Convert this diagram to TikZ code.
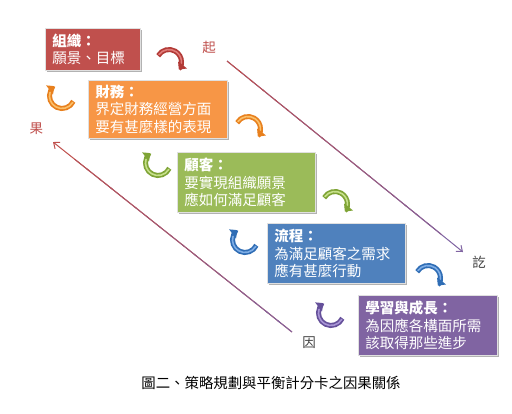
\documentclass[tikz,border=0pt]{standalone}
\usepackage{fontspec}
\setmainfont{Noto Sans CJK TC}
\usetikzlibrary{arrows.meta,shadows,calc}
\definecolor{cred}{HTML}{C0504D}
\definecolor{corange}{HTML}{F79646}
\definecolor{cgreen}{HTML}{9BBB59}
\definecolor{cblue}{HTML}{4F81BD}
\definecolor{cpurple}{HTML}{8064A2}
\definecolor{ared}{HTML}{B23A36}
\definecolor{ared2}{HTML}{E07B78}
\definecolor{aorange}{HTML}{E8801E}
\definecolor{aorange2}{HTML}{FBC06A}
\definecolor{agreen}{HTML}{7FA436}
\definecolor{agreen2}{HTML}{C6E08A}
\definecolor{ablue}{HTML}{2F6DB5}
\definecolor{ablue2}{HTML}{7FAEE6}
\definecolor{apurple}{HTML}{65509A}
\definecolor{apurple2}{HTML}{A895D6}
\newcommand\toparc[4]{%
  \draw[line width=5pt, #3, -{Triangle[length=6pt,width=11pt]}] ($(#1,-#2)+(150:12.5)$) arc[start angle=150,end angle=-38,radius=12.5];
  \draw[line width=1.6pt, #4, line cap=round] ($(#1,-#2)+(144:12.5)$) arc[start angle=144,end angle=-5,radius=12.5];
}
\newcommand\llarc[4]{%
  \draw[line width=5pt, #3, -{Triangle[length=6pt,width=11pt]}] ($(#1,-#2)+(-25:12.5)$) arc[start angle=-25,end angle=-232,radius=12.5];
  \draw[line width=1.6pt, #4, line cap=round] ($(#1,-#2)+(-31:12.5)$) arc[start angle=-31,end angle=-197,radius=12.5];
}
\tikzset{
  boxstyle/.style={rectangle, anchor=north west, inner xsep=7pt, inner ysep=0pt,
    align=left, text=white, font=\fontsize{14.5pt}{17.5pt}\selectfont,
    draw=white!88!black, line width=0.8pt,
    drop shadow={shadow xshift=1.2pt, shadow yshift=-1.6pt, opacity=0.3, fill=black}},
  lab/.style={inner sep=0pt, font=\fontsize{13.5pt}{15pt}\selectfont},
  conn/.style={line width=1pt}
}
\begin{document}
\begin{tikzpicture}[x=1pt,y=1pt]
\fill[white] (0,0) rectangle (512,-413);
\useasboundingbox (0,0) rectangle (512,-413);

% labels
\node[lab, text=cred] (qi) at (209,-47.5) {起};
\node[lab, text=black!75] (zhi) at (479,-262.5) {訖};
\node[lab, text=cred] (guo) at (36.5,-128.5) {果};
\node[lab, text=black!75] (yin) at (309,-342.5) {因};

% connectors with colour gradient
\coordinate (l1s) at (227,-61);
\coordinate (l1e) at (463,-252);
\coordinate (l2s) at (292,-332);
\coordinate (l2e) at (53,-142);
\draw[conn, cpurple, -{Straight Barb[length=5pt,width=8pt]}] (l1s) -- (l1e);
\draw[conn, cred, -{Straight Barb[length=5pt,width=8pt]}] (l2s) -- (l2e);
\foreach \i in {0,...,17}{
  \pgfmathsetmacro\ta{\i/20}
  \pgfmathsetmacro\tb{(\i+1)/20+0.01}
  \pgfmathtruncatemacro\pc{100-\i*5}
  \pgfmathtruncatemacro\qc{\i*5}
  \draw[conn, cred!\pc!cpurple] ($(l1s)!\ta!(l1e)$) -- ($(l1s)!\tb!(l1e)$);
  \draw[conn, cred!\qc!cpurple] ($(l2s)!\ta!(l2e)$) -- ($(l2s)!\tb!(l2e)$);
}

% curved arrows
\toparc{169}{62}{ared}{ared2}
\llarc{62}{96}{aorange}{aorange2}
\toparc{248}{129}{aorange}{aorange2}
\llarc{158}{163}{agreen}{agreen2}
\toparc{335}{204}{agreen}{agreen2}
\llarc{245}{240}{ablue}{ablue2}
\toparc{428}{278}{ablue}{ablue2}
\llarc{331}{313}{apurple}{apurple2}

% boxes
\node[boxstyle, fill=cred, text width=81pt, minimum height=42pt] (org) at (45,-28) {\textbf{組織：}\\願景、目標};
\node[boxstyle, fill=corange, text width=125pt, minimum height=58pt] (fin) at (88,-80) {\textbf{財務：}\\界定財務經營方面\\要有甚麼樣的表現};
\node[boxstyle, fill=cgreen, text width=124pt, minimum height=60pt] (cus) at (177,-152) {\textbf{顧客：}\\要實現組織願景\\應如何滿足顧客};
\node[boxstyle, fill=cblue, text width=124pt, minimum height=60pt] (pro) at (267,-223) {\textbf{流程：}\\為滿足顧客之需求\\應有甚麼行動};
\node[boxstyle, fill=cpurple, text width=125pt, minimum height=60pt] (lea) at (358,-295) {\textbf{學習與成長：}\\為因應各構面所需\\該取得那些進步};

% caption
\node[inner sep=0pt, font=\fontsize{14.4pt}{16pt}\selectfont] (cap) at (271,-383) {圖二、策略規劃與平衡計分卡之因果關係};
\end{tikzpicture}
\end{document}
